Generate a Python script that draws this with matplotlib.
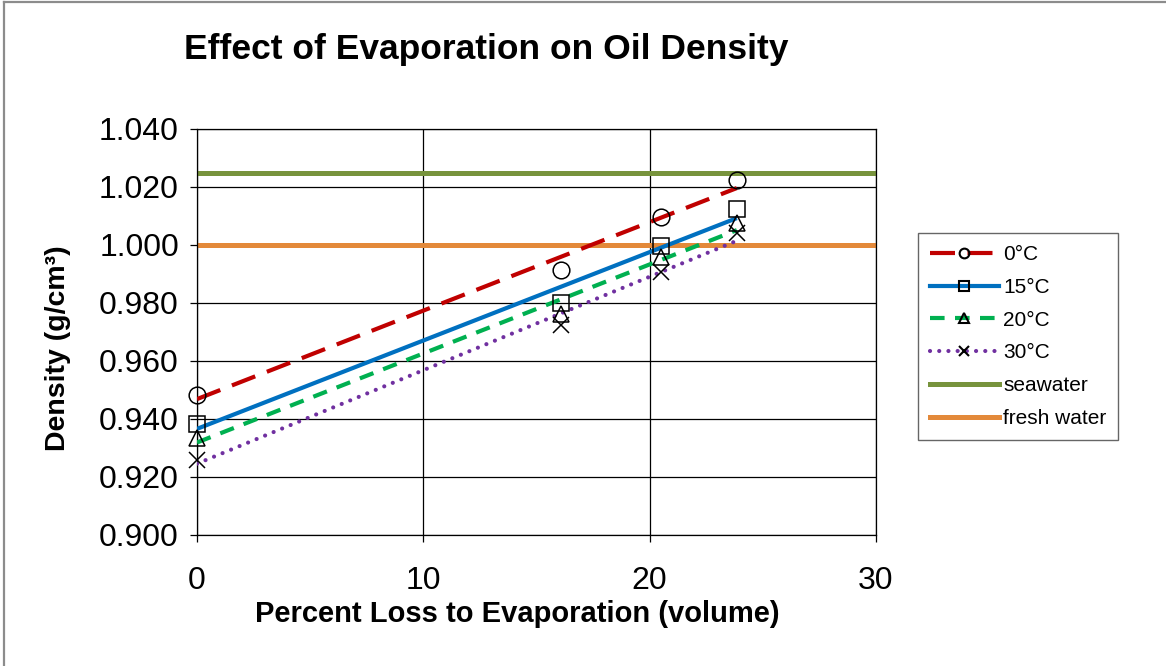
import numpy as np
import matplotlib
matplotlib.use("Agg")
import matplotlib.pyplot as plt
from matplotlib.lines import Line2D

plt.rcParams['font.family'] = ['Liberation Sans', 'DejaVu Sans']

# Percent volume lost to evaporation
loss = [0.0, 16.1, 20.5, 23.85]

# Measured densities (g/cm3) at each temperature
dens_0c = [0.9483, 0.9914, 1.0098, 1.0224]
dens_15c = [0.9383, 0.9801, 0.9998, 1.0124]
dens_20c = [0.9334, 0.9762, 0.9960, 1.0076]
dens_30c = [0.9259, 0.9724, 0.9908, 1.0041]

seawater_density = 1.025
freshwater_density = 1.000

series_labels = ['0°C', '15°C', '20°C', '30°C']
x_ticks = [0, 10, 20, 30]
y_ticks = [0.900, 0.920, 0.940, 0.960, 0.980, 1.000, 1.020, 1.040]

W, H = 1166, 666
fig = plt.figure(figsize=(W / 100, H / 100), dpi=100)
ax = fig.add_axes([197 / W, 1 - 535 / H, (876 - 197) / W, (535 - 129) / H])

series = [
    (dens_0c, '#C00000', (0, (6, 3)), 'o'),
    (dens_15c, '#0070C0', '-', 's'),
    (dens_20c, '#00B050', (0, (3.5, 2.5)), '^'),
    (dens_30c, '#7030A0', (0, (0.01, 2.2)), 'x'),
]

x = np.array(loss)
xfit = np.array([x.min(), x.max()])
handles = []
for (vals, col, ls, mk), lab in zip(series, series_labels):
    y = np.array(vals)
    slope, icpt = np.polyfit(x, y, 1)
    cap = 'round' if mk == 'x' else 'butt'
    ax.plot(xfit, slope * xfit + icpt, color=col, lw=3.0, linestyle=ls,
            dash_capstyle=cap, solid_capstyle='butt', zorder=3)
    ax.plot(x, y, linestyle='none', marker=mk, markersize=12,
            markerfacecolor='none', markeredgecolor='black',
            markeredgewidth=1.1, zorder=4, clip_on=False)
    handles.append(Line2D([], [], color=col, lw=3.0, linestyle=ls,
                          dash_capstyle=cap, marker=mk, markersize=7,
                          markerfacecolor='none', markeredgecolor='black',
                          markeredgewidth=1.5, label=lab))

ax.axhline(seawater_density, color='#77933C', lw=3.6, zorder=2)
ax.axhline(freshwater_density, color='#E3893A', lw=3.6, zorder=2)
handles.append(Line2D([], [], color='#77933C', lw=3.6, label='seawater'))
handles.append(Line2D([], [], color='#E3893A', lw=3.6, label='fresh water'))

ax.set_xlim(0, 30)
ax.set_ylim(0.900, 1.040)
ax.set_xticks(x_ticks)
ax.set_yticks(y_ticks)
ax.set_yticklabels([f'{v:.3f}' for v in y_ticks])
ax.grid(True, color='black', lw=0.9, zorder=1)
ax.set_axisbelow(True)
for s in ax.spines.values():
    s.set_color('black')
    s.set_linewidth(0.9)
ax.tick_params(axis='both', labelsize=23, length=5, width=0.9, color='black')
ax.tick_params(axis='x', pad=17)
ax.tick_params(axis='y', pad=8)

fig.text(486 / W, 1 - 50 / H, 'Effect of Evaporation on Oil Density',
         ha='center', va='center', fontsize=25.5, fontweight='bold')
fig.text(517 / W, 1 - 614 / H, 'Percent Loss to Evaporation (volume)',
         ha='center', va='center', fontsize=21, fontweight='bold')
fig.text(58 / W, 1 - 348 / H, 'Density (g/cm³)', rotation=90,
         ha='center', va='center', fontsize=20.5, fontweight='bold')

leg = fig.legend(handles=handles, loc='upper left',
                 bbox_to_anchor=(918 / W, 1 - 233 / H), fontsize=15,
                 handlelength=3.3, handletextpad=0.2, labelspacing=0.66,
                 frameon=True, fancybox=False, borderpad=0.58,
                 borderaxespad=0)
leg.get_frame().set_edgecolor('#404040')
leg.get_frame().set_linewidth(1.0)

# outer frame along the left and top edges
fig.add_artist(Line2D([4 / W, 4 / W], [0, 1 - 2 / H], color='#8C8C8C', lw=1.6,
                      transform=fig.transFigure))
fig.add_artist(Line2D([4 / W, 1], [1 - 2 / H, 1 - 2 / H], color='#8C8C8C', lw=1.6,
                      transform=fig.transFigure))

fig.savefig('out.png', dpi=100)
